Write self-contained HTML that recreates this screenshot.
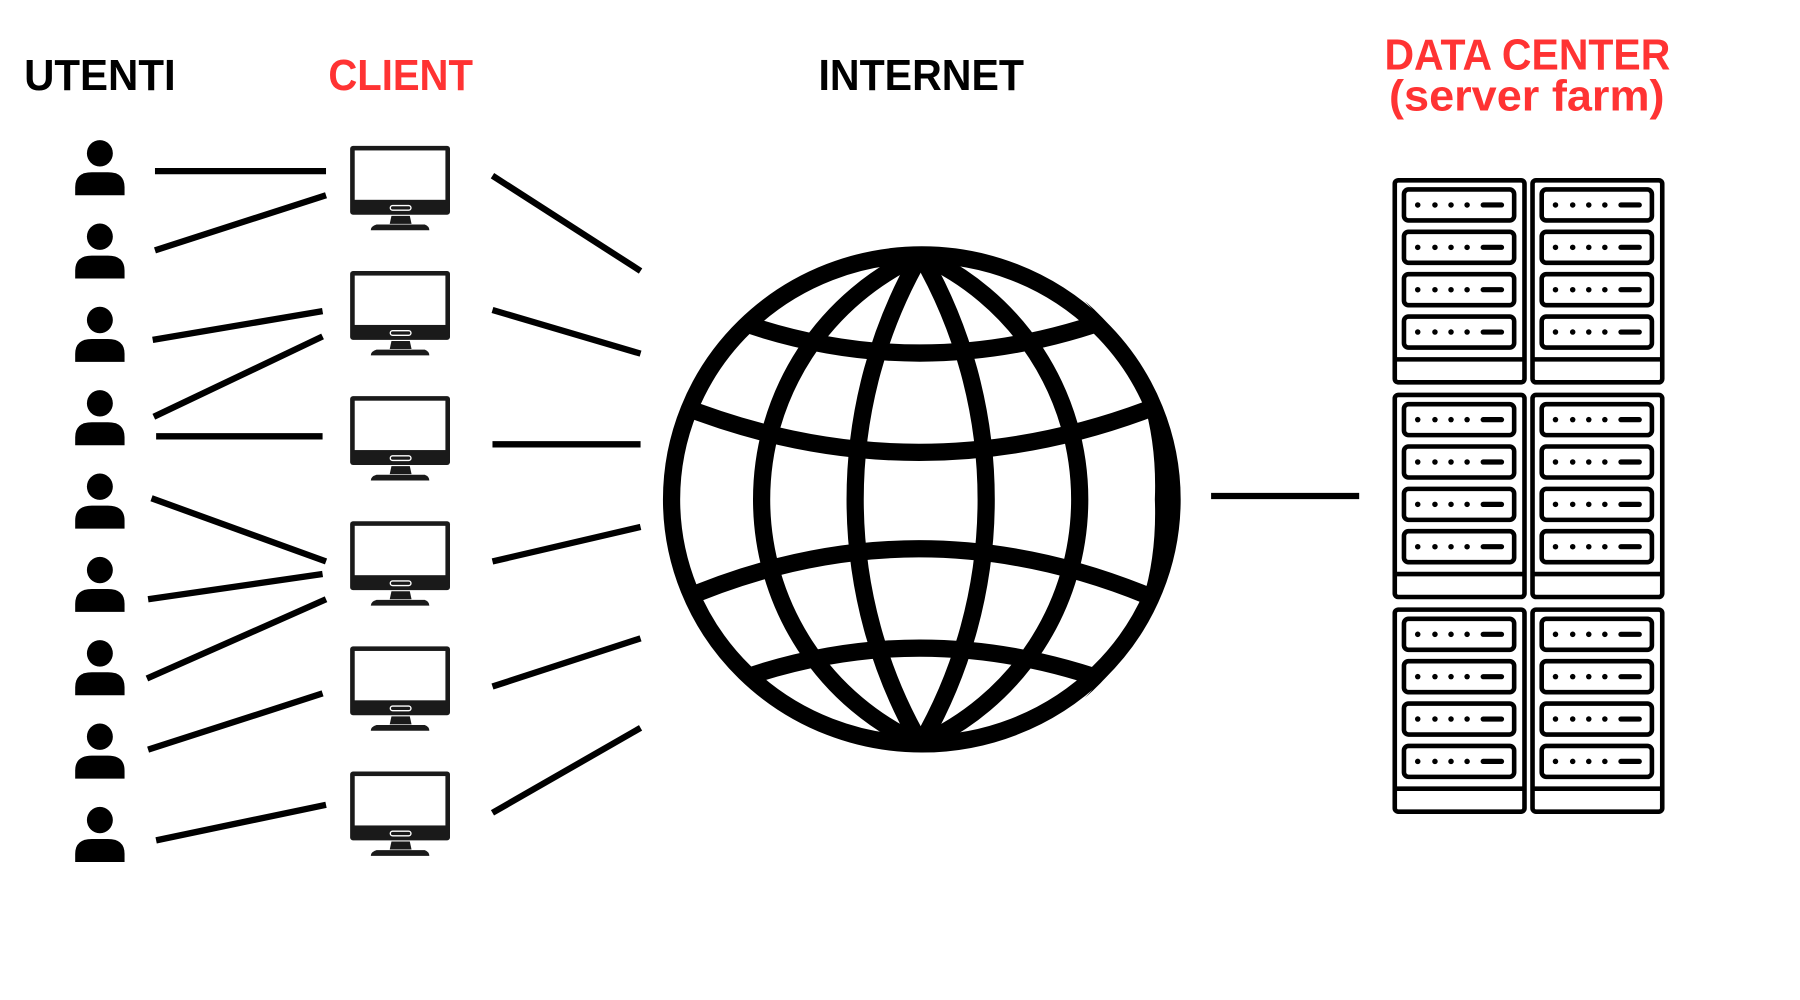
<!DOCTYPE html>
<html><head><meta charset="utf-8"><style>html,body{margin:0;padding:0;background:#fff}svg{display:block}</style></head>
<body>
<svg width="1800" height="1000" viewBox="0 0 1568 871" xmlns="http://www.w3.org/2000/svg">
<defs>
<g id="person">
 <ellipse cx="87" cy="133.5" rx="11.3" ry="11.5" fill="#000"/>
 <path d="M65.5,170 L65.5,163 Q65.5,150 80,150 L94,150 Q108.5,150 108.5,163 L108.5,170 Z" fill="#000"/>
</g>
<g id="mon">
 <rect x="305" y="127" width="87" height="60" rx="2.5" fill="#1a1a1a"/>
 <rect x="309" y="131" width="79" height="43" fill="#fff"/>
 <rect x="340" y="179" width="18" height="4" rx="2" fill="none" stroke="#fff" stroke-width="1.2"/>
 <path d="M341,188 L357,188 L358.5,195 L339.5,195 Z" fill="#1a1a1a"/>
 <path d="M328,195.5 L370,195.5 Q374,197 374,200.5 L323,200.5 Q323,197 328,195.5 Z" fill="#1a1a1a"/>
</g>
<g id="rack" fill="none" stroke="#000" stroke-width="4">
 <rect x="1215" y="2" width="113" height="176" rx="3"/>
 <line x1="1215" y1="158" x2="1328" y2="158"/>
 <g id="unit">
  <rect x="1223" y="10" width="96" height="27" rx="4"/>
  <g fill="#000" stroke="none"><circle cx="1235" cy="23.5" r="2.4"/><circle cx="1250" cy="23.5" r="2.4"/><circle cx="1264" cy="23.5" r="2.4"/><circle cx="1278" cy="23.5" r="2.4"/></g>
  <line x1="1292" y1="23.5" x2="1308" y2="23.5" stroke-linecap="round" stroke-width="4.5"/>
 </g>
 <use href="#unit" y="36.9"/>
 <use href="#unit" y="73.8"/>
 <use href="#unit" y="110.7"/>
</g>
<clipPath id="gclip"><ellipse cx="803" cy="435" rx="218" ry="213"/></clipPath>
</defs>

<g font-family="'Liberation Sans', sans-serif" font-weight="bold" font-size="38">
 <text x="21" y="78.4" textLength="132" lengthAdjust="spacingAndGlyphs" fill="#000">UTENTI</text>
 <text x="286" y="78.4" textLength="126" lengthAdjust="spacingAndGlyphs" fill="#ff3333">CLIENT</text>
 <text x="713" y="78.4" textLength="179" lengthAdjust="spacingAndGlyphs" fill="#000">INTERNET</text>
 <text x="1206" y="60.4" textLength="249" lengthAdjust="spacingAndGlyphs" fill="#ff3333">DATA CENTER</text>
 <text x="1210" y="96" textLength="240" lengthAdjust="spacingAndGlyphs" fill="#ff3333">(server farm)</text>
</g>

<use href="#person" y="0"/>
<use href="#person" y="72.6"/>
<use href="#person" y="145.2"/>
<use href="#person" y="217.8"/>
<use href="#person" y="290.4"/>
<use href="#person" y="363"/>
<use href="#person" y="435.6"/>
<use href="#person" y="508.2"/>
<use href="#person" y="580.8"/>

<use href="#mon" y="0"/>
<use href="#mon" y="109"/>
<use href="#mon" y="218"/>
<use href="#mon" y="327"/>
<use href="#mon" y="436"/>
<use href="#mon" y="545"/>

<g stroke="#000" stroke-width="5.5" fill="none">
 <line x1="135" y1="149" x2="284" y2="149"/>
 <line x1="135" y1="218" x2="284" y2="170"/>
 <line x1="133" y1="296" x2="281" y2="271"/>
 <line x1="134" y1="363" x2="281" y2="293"/>
 <line x1="136" y1="380" x2="281" y2="380"/>
 <line x1="132" y1="434" x2="284" y2="489"/>
 <line x1="129" y1="522" x2="281" y2="500"/>
 <line x1="128" y1="591" x2="284" y2="522"/>
 <line x1="129" y1="653" x2="281" y2="604"/>
 <line x1="136" y1="732" x2="284" y2="701"/>

 <line x1="429" y1="153" x2="558" y2="236"/>
 <line x1="429" y1="270" x2="558" y2="308"/>
 <line x1="429" y1="387" x2="558" y2="387"/>
 <line x1="429" y1="489" x2="558" y2="459"/>
 <line x1="429" y1="598" x2="558" y2="556"/>
 <line x1="429" y1="708" x2="558" y2="634"/>

 <line x1="1055" y1="432" x2="1184" y2="432"/>
</g>

<!-- globe -->
<g fill="none" stroke="#000">
 <ellipse cx="803" cy="435" rx="218" ry="213" stroke-width="15"/>
 <path d="M945,262 Q1010,330 1006,435 Q1010,540 945,608 Q1022,540 1022,435 Q1022,330 945,262 Z" fill="#000" stroke="none"/>
 <g clip-path="url(#gclip)" stroke-width="15">
  <path d="M802,222 A426,426 0 0 0 802,648"/>
  <path d="M802,222 A426,426 0 0 1 802,648"/>
  <path d="M802,222 A233,233 0 0 0 802,648"/>
  <path d="M802,222 A233,233 0 0 1 802,648"/>
  <path d="M630,275 Q800,340 975,275"/>
  <path d="M590,352 Q800,436 1012,352"/>
  <path d="M590,524 Q800,432 1012,524"/>
  <path d="M630,597 Q800,532 975,597"/>
 </g>
</g>

<!-- racks -->
<use href="#rack" y="155"/>
<use href="#rack" x="120" y="155"/>
<use href="#rack" y="342"/>
<use href="#rack" x="120" y="342"/>
<use href="#rack" y="529"/>
<use href="#rack" x="120" y="529"/>
</svg>
</body></html>
